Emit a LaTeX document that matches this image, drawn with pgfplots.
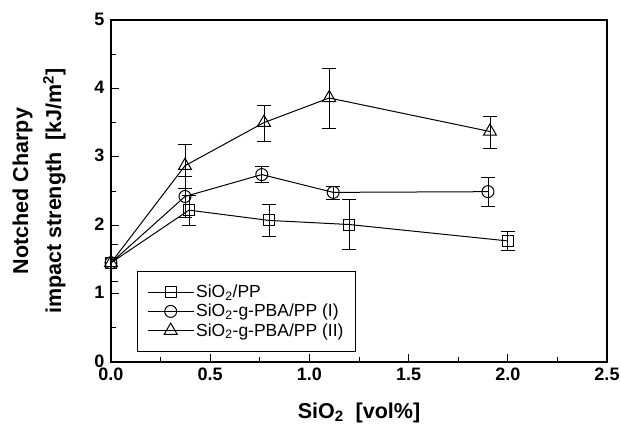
\documentclass[border=0pt]{standalone}
\usepackage{fontspec}
\setmainfont{Liberation Sans}
\usepackage{pgfplots}
\pgfplotsset{compat=1.18}

\begin{document}
\begin{tikzpicture}
\begin{axis}[
  width=496pt, height=342pt, scale only axis,
  xmin=0, xmax=2.5, ymin=0, ymax=5,
  xtick={0,0.5,...,2.5}, ytick={0,1,...,5},
  minor x tick num=1, minor y tick num=1,
  xtick pos=bottom, ytick pos=left,
  tick align=inside,
  major tick length=8pt, minor tick length=5pt,
  axis line style={line width=1.6pt},
  every tick/.style={black, line width=1pt},
  /pgf/number format/assume math mode=true,
  tick label style={font=\fontsize{18}{21}\selectfont\bfseries},
  x tick label style={yshift=-2.5pt, /pgf/number format/.cd, fixed, fixed zerofill, precision=1},
  y tick label style={xshift=-3pt, yshift=1pt},
  xlabel={SiO\textsubscript{2}\ \ [vol\%]},
  ylabel={Notched Charpy\\[7pt]impact strength\ \ [kJ/m\textsuperscript{2}]},
  label style={font=\fontsize{21.5}{26}\selectfont\bfseries},
  ylabel style={align=center},
  xlabel shift=15pt, ylabel shift=22pt,
  legend style={at={(0.052,0.029)}, anchor=south west, draw=black, line width=0.8pt,
    font=\fontsize{17.5}{20}\selectfont, row sep=1pt, inner xsep=10pt, inner ysep=12pt,
    cells={anchor=west}},
  legend image code/.code={\draw[mark repeat=2,mark phase=2,#1]
    plot coordinates {(0pt,0pt) (23pt,0pt) (46pt,0pt)};},
  every axis plot/.append style={black, line width=1pt,
    mark options={solid, fill=white, line width=1pt}},
  error bars/error bar style={line width=0.8pt},
  error bars/error mark options={rotate=90, mark size=7pt, line width=0.8pt},
]
\addplot[mark=square, mark size=5.5pt, error bars/.cd, y dir=both, y explicit]
  coordinates {
  (0,1.45) += (0,0.27) -= (0,0.27)
  (0.393,2.22) += (0,0.22) -= (0,0.22)
  (0.796,2.07) += (0,0.24) -= (0,0.24)
  (1.20,2.01) += (0,0.37) -= (0,0.36)
  (2.00,1.77) += (0,0.14) -= (0,0.14)
  };
\addlegendentry{SiO\textsubscript{2}/PP}
\addplot[mark=o, mark size=6pt, error bars/.cd, y dir=both, y explicit]
  coordinates {
  (0,1.45) += (0,0.27) -= (0,0.27)
  (0.373,2.42) += (0,0.30) -= (0,0.30)
  (0.76,2.74) += (0,0.12) -= (0,0.11)
  (1.12,2.48) += (0,0.09) -= (0,0.10)
  (1.90,2.49) += (0,0.21) -= (0,0.21)
  };
\addlegendentry{SiO\textsubscript{2}-g-PBA/PP (I)}
\addplot[mark=triangle, mark size=7.5pt, error bars/.cd, y dir=both, y explicit]
  coordinates {
  (0,1.45) += (0,0.27) -= (0,0.27)
  (0.373,2.87) += (0,0.31) -= (0,0.33)
  (0.771,3.50) += (0,0.25) -= (0,0.28)
  (1.10,3.86) += (0,0.43) -= (0,0.44)
  (1.91,3.37) += (0,0.22) -= (0,0.25)
  };
\addlegendentry{SiO\textsubscript{2}-g-PBA/PP (II)}
\coordinate (sw) at (rel axis cs:0,0);
\coordinate (ne) at (rel axis cs:1,1);
\end{axis}
\pgfresetboundingbox
\path ([shift={(-111pt,-69pt)}]sw) rectangle ([shift={(14pt,20pt)}]ne);
\end{tikzpicture}
\end{document}
